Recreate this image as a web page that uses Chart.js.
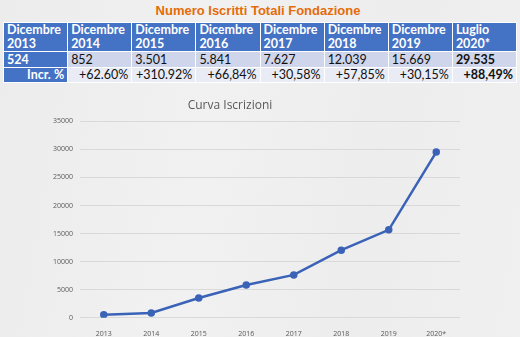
<!DOCTYPE html>
<html>
<head>
<meta charset="utf-8">
<script src="https://cdn.jsdelivr.net/npm/chart.js@4"></script>
<style>
  html, body { margin: 0; padding: 0; }
  body {
    width: 520px; height: 337px; overflow: hidden; position: relative;
    background: linear-gradient(100deg, #ececec 0%, #f1f1f1 40%, #ededed 70%, #f0f0f0 100%);
    font-family: Lato, "Open Sans", sans-serif;
  }
  #title {
    position: absolute; left: 0; width: 516px; top: 3px; text-align: center;
    font: bold 13px "Liberation Sans", Arial, sans-serif; color: #E46C0A;
  }
  #tab {
    position: absolute; left: 3px; top: 22px; width: 514px;
    border-collapse: collapse; table-layout: fixed; font-size: 12.5px;
  }
  #tab td { border: 1px solid #ffffff; padding: 0 3px; overflow: hidden; white-space: nowrap; }
  #tab tr.h td { background: #4472C4; color: #fff; font-weight: bold; height: 28px; line-height: 14px; font-size: 12.5px; }
  #tab tr.v td { background: #CFD5EA; color: #111; height: 15px; line-height: 15px; }
  #tab tr.p td { background: #E9EBF5; color: #111; height: 14px; line-height: 14px; text-align: right; }
  #tab tr td.k { background: #4472C4; color: #fff; font-weight: bold; }
  #tab tr td.b { font-weight: bold; }
  #wrap { position: absolute; left: 0; top: 88px; width: 520px; height: 249px; }
</style>
</head>
<body>
<div id="title">Numero Iscritti Totali Fondazione</div>
<table id="tab"></table>
<div id="wrap"><canvas id="cha"></canvas></div>
<script>
var headers = ["Dicembre 2013", "Dicembre 2014", "Dicembre 2015", "Dicembre 2016", "Dicembre 2017", "Dicembre 2018", "Dicembre 2019", "Luglio 2020*"];
var years = ["2013", "2014", "2015", "2016", "2017", "2018", "2019", "2020*"];
var iscritti = [524, 852, 3501, 5841, 7627, 12039, 15669, 29535];
var incr = ["+62.60%", "+310.92%", "+66,84%", "+30,58%", "+57,85%", "+30,15%", "+88,49%"];
var yTicks = [0, 5000, 10000, 15000, 20000, 25000, 30000, 35000];

function dots(n) {
    return String(n).replace(/\B(?=(\d{3})+(?!\d))/g, ".");
}

// Table
var h = "<tr class='h'>", v = "<tr class='v'>", p = "<tr class='p'>";
for (var i = 0; i < headers.length; i++) {
    var parts = headers[i].split(" ");
    h += `<td>${parts[0]}<br>${parts[1]}</td>`;
    var last = i == headers.length - 1 ? " class='b'" : "";
    v += i == 0 ? `<td class="k">${dots(iscritti[i])}</td>` : `<td${last}>${dots(iscritti[i])}</td>`;
    p += i == 0 ? `<td class="k">Incr. %</td>` : `<td${last}>${incr[i - 1]}</td>`;
}
document.getElementById("tab").innerHTML = h + "</tr>" + v + "</tr>" + p + "</tr>";

// Chart
new Chart(document.getElementById("cha"), {
    type: "line",
    data: {
        labels: years,
        datasets: [{
            data: iscritti,
            borderColor: "#3A63B8",
            backgroundColor: "#3A63B8",
            borderWidth: 2.5,
            pointRadius: 2.5,
            pointHoverRadius: 2.5,
            tension: 0,
            fill: false
        }]
    },
    options: {
        responsive: true,
        maintainAspectRatio: false,
        animation: false,
        layout: { padding: { left: 0, right: 60, top: 0, bottom: 0 } },
        plugins: {
            legend: { display: false },
            tooltip: { enabled: false },
            title: {
                display: true,
                text: "Curva Iscrizioni",
                color: "#595959",
                font: { family: "Open Sans", size: 12, weight: "normal" },
                padding: { top: 10, bottom: 9 }
            }
        },
        scales: {
            x: {
                offset: true,
                grid: { display: false },
                border: { display: false },
                ticks: { color: "#595959", font: { family: "Open Sans", size: 7 }, padding: 4, maxRotation: 0 },
                afterFit: function(s) { s.height = 19.3; }
            },
            y: {
                min: 0,
                max: 35000,
                afterBuildTicks: function(s) { s.ticks = yTicks.map(function(t) { return { value: t }; }); },
                grid: { color: "#D9D9D9", drawTicks: false, lineWidth: 1 },
                border: { display: false },
                ticks: {
                    color: "#595959", font: { family: "Open Sans", size: 7 }, padding: 7,
                    callback: function(val) { return String(val); }
                },
                afterFit: function(s) { s.width = 80; }
            }
        }
    }
});
</script>
</body>
</html>
